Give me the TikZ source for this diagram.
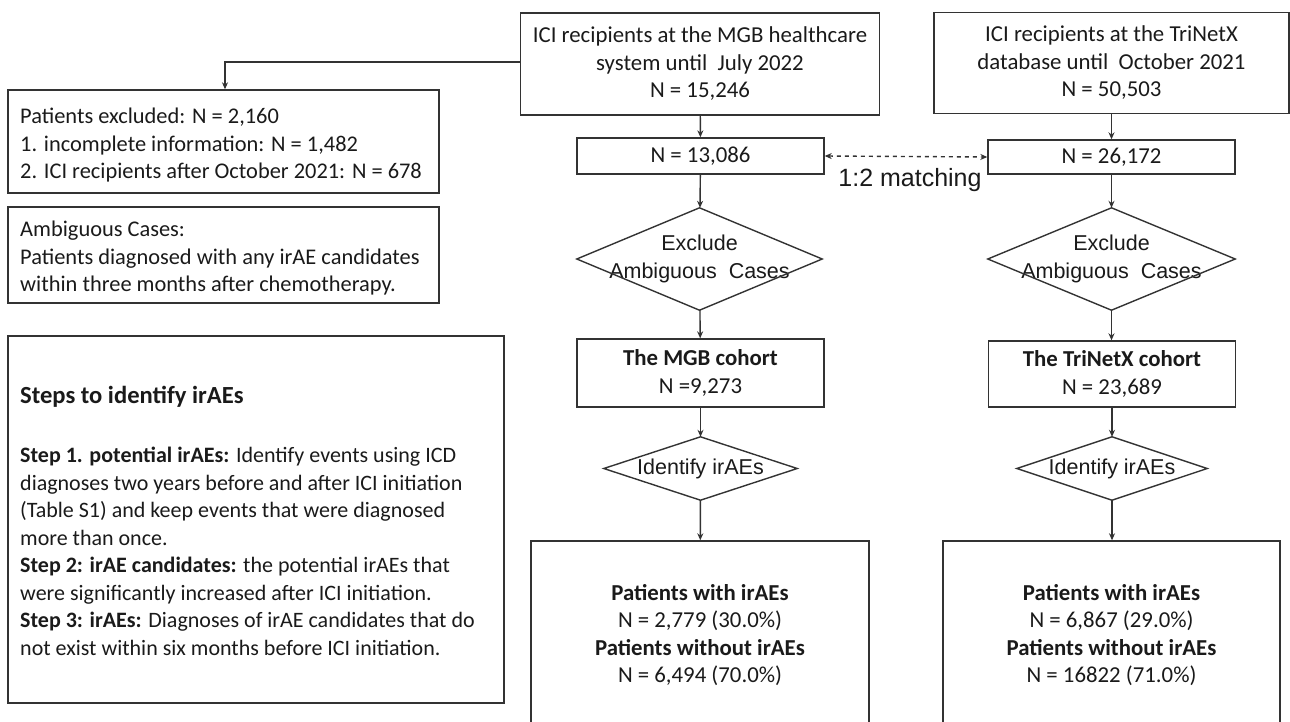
\documentclass[tikz,border=0pt]{standalone}
\usepackage{fontspec}
\setmainfont{Carlito}
\newfontfamily\arialf{Liberation Sans}
\usetikzlibrary{shapes.geometric,arrows.meta}
\definecolor{ln}{HTML}{333333}
\definecolor{tx}{HTML}{1A1A1A}
\tikzset{
  box/.style={draw=ln,line width=1.4pt,rectangle,inner sep=0pt,align=center,text=tx,
    font=\fontsize{22.8}{27.5}\selectfont},
  lbox/.style={draw=ln,line width=1.4pt,rectangle,inner sep=0pt,text=tx},
  ltext/.style={anchor=north west,text=tx,align=left,inner sep=0pt,font=\fontsize{22.4}{27.5}\selectfont},
  dia/.style={rectangle,inner sep=0pt,align=center,text=tx,
    font=\arialf\fontsize{21.5}{28}\selectfont},
  diaedge/.style={draw=ln,line width=1.4pt,line join=miter},
  arr/.style={draw=ln,line width=1.4pt,-{Stealth[length=7pt,width=6pt]}},
}
\begin{document}
\begin{tikzpicture}[x=1pt,y=-1pt]
\useasboundingbox (0,0) rectangle (1290,721);
\clip (0,0) rectangle (1290,721);
% top boxes
\node[box,minimum width=359pt,minimum height=102pt] (mgb) at (700,64)
  {ICI recipients at the MGB healthcare\\system until\ \ July 2022\\N = 15,246};
\node[box,minimum width=355pt,minimum height=101pt] (trx) at (1111.5,63)
  {ICI recipients at the TriNetX\\database until\ \ October 2021\\N = 50,503};
% N boxes
\node[box,minimum width=247pt,minimum height=36pt] (n1) at (700.5,156) {N = 13,086};
\node[box,minimum width=247pt,minimum height=34pt] (n2) at (1111.5,157) {N = 26,172};
% diamonds exclude
\node[dia,minimum width=245pt,minimum height=102pt] (ex1) at (699.5,259) {Exclude\\Ambiguous\ \ Cases};
\node[dia,minimum width=247pt,minimum height=102pt] (ex2) at (1111.5,259) {Exclude\\Ambiguous\ \ Cases};
% cohorts
\node[box,minimum width=247pt,minimum height=68pt] (c1) at (700.5,373)
  {\textbf{The MGB cohort}\\N =9,273};
\node[box,minimum width=247pt,minimum height=66pt] (c2) at (1112,374)
  {\textbf{The TriNetX cohort}\\N = 23,689};
% identify diamonds
\node[dia,minimum width=193pt,minimum height=63pt] (id1) at (700.5,468.5) {Identify irAEs};
\node[dia,minimum width=190pt,minimum height=63pt] (id2) at (1112,468.5) {Identify irAEs};
\foreach \d in {ex1,ex2,id1,id2}
  \draw[diaedge] (\d.north) -- (\d.east) -- (\d.south) -- (\d.west) -- cycle;
% result boxes
\node[box,minimum width=338pt,minimum height=188pt] (r1) at (700,635)
  {\textbf{Patients with irAEs}\\N = 2,779 (30.0\%)\\\textbf{Patients without irAEs}\\N = 6,494 (70.0\%)};
\node[box,minimum width=337pt,minimum height=188pt] (r2) at (1111.5,635)
  {\textbf{Patients with irAEs}\\N = 6,867 (29.0\%)\\\textbf{Patients without irAEs}\\N = 16822 (71.0\%)};
% left boxes
\node[lbox,minimum width=431pt,minimum height=103pt] (exc) at (223.5,141.5) {};
\node[ltext] (exct) at (20,108)
  {Patients excluded: N = 2,160\\1. incomplete information: N = 1,482\\2. ICI recipients after October 2021: N = 678};
\node[lbox,minimum width=431pt,minimum height=96pt] (amb) at (223.5,255) {};
\node[ltext] (ambt) at (20,221)
  {Ambiguous Cases:\\Patients diagnosed with any irAE candidates\\within three months after chemotherapy.};
\node[lbox,minimum width=496pt,minimum height=367pt] (steps) at (256,519.5) {};
\node[ltext,font=\fontsize{24.6}{27.5}\selectfont] (stepst) at (20,386)
  {\textbf{Steps to identify irAEs}};
\node[ltext,font=\fontsize{22}{27.5}\selectfont] (stepsb) at (20,447)
  {\textbf{Step 1. potential irAEs:} Identify events using ICD\\
   diagnoses two years before and after ICI initiation\\
   (Table S1) and keep events that were diagnosed\\
   more than once.\\
   \textbf{Step 2: irAE candidates:} the potential irAEs that\\
   were significantly increased after ICI initiation.\\
   \textbf{Step 3: irAEs:} Diagnoses of irAE candidates that do\\
   not exist within six months before ICI initiation.};
% connectors
\coordinate (elb) at (225,62);
\draw[arr] (mgb.west |- elb) -- (elb) -- (elb |- exc.north);
\draw[arr] (mgb) -- (n1);
\draw[arr] (trx) -- (n2);
\draw[arr] (n1) -- (ex1);
\draw[arr] (n2) -- (ex2);
\draw[arr] (ex1) -- (c1);
\draw[arr] (ex2.south) -- (ex2.south |- c2.north);
\draw[arr] (c1) -- (id1);
\draw[arr] (c2.south -| id2.north) -- (id2.north);
\draw[arr] (id1) -- (r1);
\draw[arr] (id2.south) -- (id2.south |- r2.north);
\draw[draw=ln,line width=1.4pt,dash pattern=on 4pt off 4pt,
  {Stealth[length=7pt,width=6pt]}-{Stealth[length=7pt,width=6pt]}] (n1.east) -- (n2.west);
\node[font=\arialf\fontsize{25}{28}\selectfont,text=tx,inner sep=0pt] (match) at (910,180) {1:2 matching};
\end{tikzpicture}
\end{document}
